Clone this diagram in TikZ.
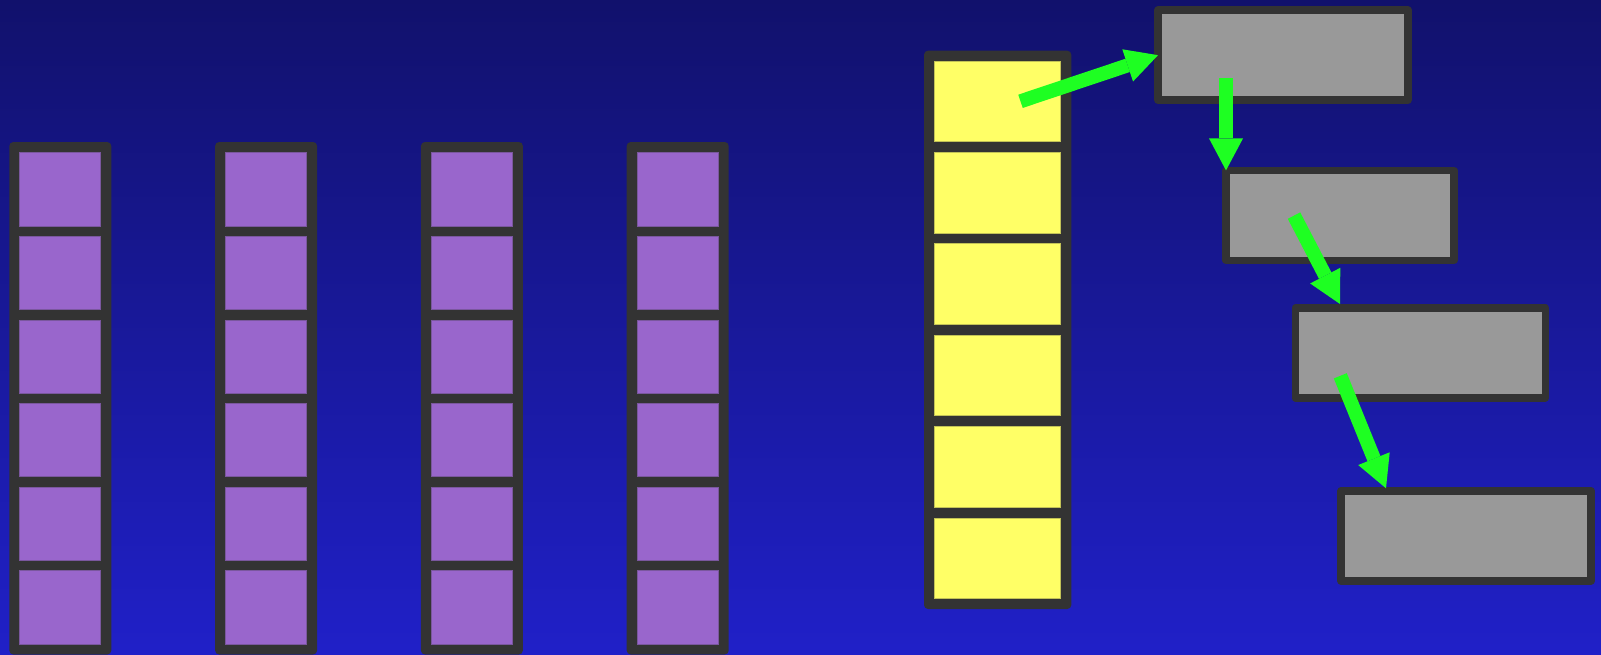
\documentclass[tikz,border=0pt]{standalone}
\usetikzlibrary{arrows.meta}
\definecolor{bgtop}{RGB}{17,17,108}
\definecolor{bgbottom}{RGB}{32,32,200}
\definecolor{framegray}{RGB}{51,51,51}
\definecolor{cellpurple}{RGB}{153,102,204}
\definecolor{cellyellow}{RGB}{255,255,102}
\definecolor{boxgray}{RGB}{153,153,153}
\definecolor{arrowgreen}{RGB}{30,255,34}
\begin{document}
\begin{tikzpicture}[x=1pt, y=-1pt,
		frame/.style = {fill=framegray, rounded corners=4pt},
		purplecell/.style = {fill=cellpurple, draw=cellpurple!70!framegray, line width=1pt,
			inner sep=0pt, minimum width=81pt, minimum height=73.3pt},
		yellowcell/.style = {fill=cellyellow, draw=cellyellow!70!framegray, line width=1pt,
			inner sep=0pt, minimum width=126.4pt, minimum height=80.6pt},
		listbox/.style = {fill=boxgray, draw=framegray, line width=7.5pt, line join=round,
			inner sep=0pt, outer sep=0pt, minimum width=250pt, minimum height=90pt},
		fatarrow/.style = {draw=arrowgreen, line width=14pt,
			-{Triangle[width=34pt, length=32pt, line width=0pt]}}]
	\useasboundingbox (0,0) rectangle (1601,654);
	\shade[top color=bgtop, bottom color=bgbottom] (0,0) rectangle (1601,654);
	% four purple columns
	\foreach \c in {0,...,3} {
		\fill[frame] (9.3+205.8*\c,142) rectangle ++(102,512.5);
		\foreach \r in {1,...,6}
			\node[purplecell] (p\c-\r) at (60.3+205.8*\c, 105.7+83.65*\r) {};
	}
	% yellow column
	\fill[frame] (924,50.7) rectangle (1071.3,609);
	\foreach \r in {1,...,6}
		\node[yellowcell] (y\r) at (997.5, 9.85+91.45*\r) {};
	% gray boxes
	\node[listbox] (g1) at (1283,55.2) {};
	\node[listbox, minimum width=228pt] (g2) at (1340,215.4) {};
	\node[listbox] (g3) at (1420.3,352.9) {};
	\node[listbox] (g4) at (1466.2,535.8) {};
	% arrows
	\coordinate (a1) at (1020.5,101.3);
	\coordinate (a2) at (1226,78);
	\coordinate (a3) at (1294,215.6);
	\coordinate (a4) at (1340.3,375.8);
	\coordinate (b3) at (1340,304);
	\coordinate (b4) at (1386,488.3);
	\draw[fatarrow] (a1) -- (g1.west);
	\draw[fatarrow] (a2) -- (g2.north west);
	\draw[fatarrow] (a3) -- (b3);
	\draw[fatarrow] (a4) -- (b4);
\end{tikzpicture}
\end{document}
